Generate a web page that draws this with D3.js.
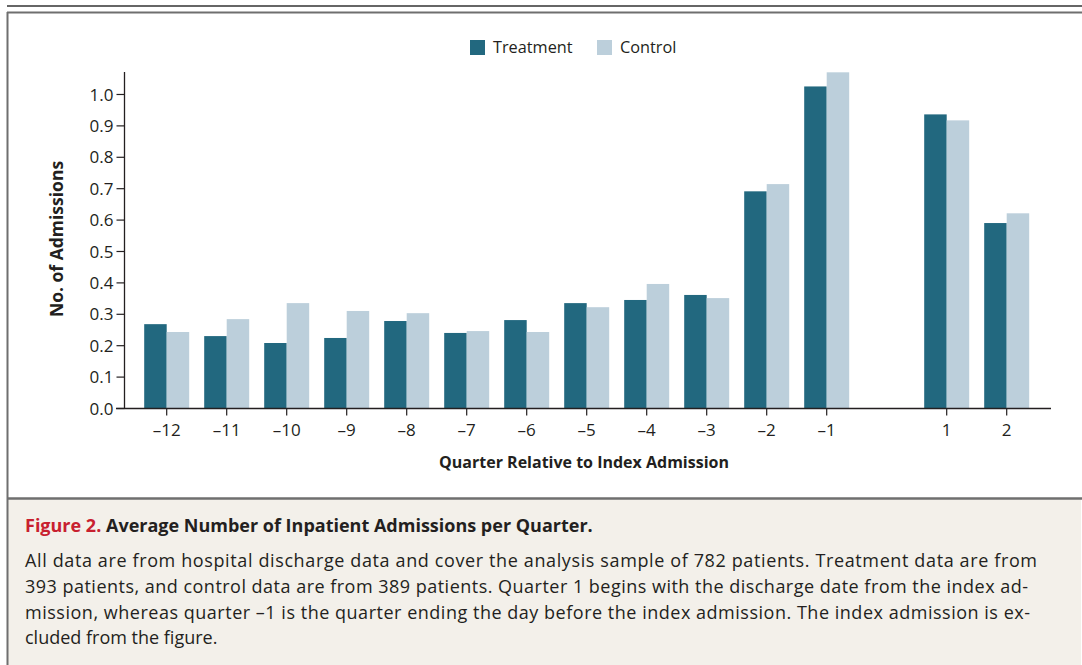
<!DOCTYPE html>
<html>
<head>
<meta charset="utf-8">
<script src="https://cdn.jsdelivr.net/npm/d3@7"></script>
<style>
  body { margin: 0; background: #fff; }
  text { font-family: "Open Sans", sans-serif; fill: #231f20; }
</style>
</head>
<body>
<div id="chart"></div>
<script>
// quarters relative to index admission ("gap" = the excluded index quarter, left blank)
var quarters = ["q-12","q-11","q-10","q-9","q-8","q-7","q-6","q-5","q-4","q-3","q-2","q-1","gap","q1","q2"]
var tickLabels = ["\u201312","\u201311","\u201310","\u20139","\u20138","\u20137","\u20136","\u20135","\u20134","\u20133","\u20132","\u20131","","1","2"]
var treatment = [0.267,0.229,0.207,0.223,0.277,0.239,0.280,0.334,0.344,0.360,0.690,1.024,null,0.935,0.589]
var control   = [0.242,0.283,0.334,0.309,0.302,0.245,0.242,0.321,0.395,0.350,0.713,1.069,null,0.916,0.620]
var yTicks = [0,0.1,0.2,0.3,0.4,0.5,0.6,0.7,0.8,0.9,1.0]
var seriesNames = ["Treatment","Control"]
var colors = ["#22687f","#bccfdb"]

var captionTitle = "Average Number of Inpatient Admissions per Quarter."
var captionLines = [
  "All data are from hospital discharge data and cover the analysis sample of 782 patients. Treatment data are from",
  "393 patients, and control data are from 389 patients. Quarter 1 begins with the discharge date from the index ad-",
  "mission, whereas quarter \u20131 is the quarter ending the day before the index admission. The index admission is ex-",
  "cluded from the figure."
]

var W = 1082, H = 665
var svg = d3.select("#chart").append("svg")
            .attr("width", W)
            .attr("height", H)

// frame + caption panel
svg.append("line").attr("x1", 7).attr("x2", W).attr("y1", 6).attr("y2", 6)
   .attr("stroke", "#333").attr("stroke-width", 1.5)
svg.append("rect").attr("x", 8).attr("y", 499).attr("width", W - 9).attr("height", H - 499)
   .attr("fill", "#f3f0ea")
svg.append("line").attr("x1", 7).attr("x2", W).attr("y1", 12.5).attr("y2", 12.5)
   .attr("stroke", "#6f6f6f").attr("stroke-width", 2)
svg.append("line").attr("x1", 7).attr("x2", W).attr("y1", 498.5).attr("y2", 498.5)
   .attr("stroke", "#6f6f6f").attr("stroke-width", 2.5)
svg.append("line").attr("x1", 7.5).attr("x2", 7.5).attr("y1", 12).attr("y2", H)
   .attr("stroke", "#6f6f6f").attr("stroke-width", 2)

var x = d3.scaleBand().domain(quarters).range([136.7, 1036.7]).paddingInner(0.25).paddingOuter(0.125)
var xs = d3.scaleBand().domain(seriesNames).range([0, x.bandwidth()])
var y = d3.scaleLinear().domain([0, 1.07]).range([408, 72])

var rows = quarters.map((q, i) => ({q: q, vals: [treatment[i], control[i]]}))
                   .filter(d => d.vals[0] != null)

var g = svg.append("g")
g.selectAll("g.grp").data(rows).enter().append("g")
  .attr("class", "grp")
  .attr("transform", d => "translate(" + x(d.q) + ",0)")
  .selectAll("rect").data(d => d.vals.map((v, j) => ({name: seriesNames[j], v: v, c: colors[j]})))
  .enter().append("rect")
    .attr("x", d => xs(d.name))
    .attr("width", xs.bandwidth())
    .attr("y", d => y(d.v))
    .attr("height", d => y(0) - y(d.v))
    .attr("fill", d => d.c)

// y axis
var yAxis = svg.append("g").attr("transform", "translate(124.5,0)")
  .call(d3.axisLeft(y).tickValues(yTicks).tickFormat(d3.format(".1f")).tickSize(8).tickPadding(3).tickSizeOuter(0))
yAxis.select(".domain").remove()
yAxis.append("line").attr("y1", 72).attr("y2", 408).attr("stroke", "#231f20").attr("stroke-width", 1.3)
yAxis.selectAll(".tick line").attr("stroke", "#231f20").attr("stroke-width", 1.2)
yAxis.selectAll(".tick text").style("font-size", "17px").attr("fill", "#231f20").attr("dy", "0.36em")

// x axis
var xAxis = svg.append("g").attr("transform", "translate(0,408.5)")
  .call(d3.axisBottom(x).tickValues(quarters.filter(q => q != "gap"))
          .tickFormat(q => tickLabels[quarters.indexOf(q)]).tickSize(7).tickPadding(8).tickSizeOuter(0))
xAxis.select(".domain").remove()
xAxis.append("line").attr("x1", 116).attr("x2", 1051).attr("stroke", "#231f20").attr("stroke-width", 1.3)
xAxis.selectAll(".tick line").attr("stroke", "#231f20").attr("stroke-width", 1.2)
xAxis.selectAll(".tick text").style("font-size", "17px").attr("fill", "#231f20")

// axis titles
svg.append("text").attr("x", 584).attr("y", 468).attr("text-anchor", "middle")
   .style("font-size", "16px").style("font-weight", "bold").text("Quarter Relative to Index Admission")
svg.append("text").attr("transform", "translate(63,239) rotate(-90)").attr("text-anchor", "middle")
   .style("font-size", "17.5px").style("font-weight", "bold").text("No. of Admissions")

// legend
var legendX = [470, 597]
var leg = svg.selectAll("g.leg").data(seriesNames).enter().append("g")
  .attr("class", "leg")
  .attr("transform", (d, i) => "translate(" + legendX[i] + ",40)")
leg.append("rect").attr("width", 15).attr("height", 15).attr("fill", (d, i) => colors[i])
leg.append("text").attr("x", 23).attr("y", 13).style("font-size", "16.3px").text(d => d)

// caption
var cap = svg.append("text").attr("x", 25).attr("y", 532).style("font-size", "18px").style("font-weight", "bold")
cap.append("tspan").style("fill", "#c8202f").text("Figure 2. ")
cap.append("tspan").text(captionTitle)

svg.selectAll("text.capline").data(captionLines).enter().append("text")
  .attr("class", "capline")
  .attr("x", 25)
  .attr("y", (d, i) => 567 + i * 25.8)
  .style("font-size", "18px")
  .attr("textLength", (d, i) => i < 3 ? [1012, 1003, 1005][i] : null)
  .attr("lengthAdjust", "spacing")
  .text(d => d)
</script>
</body>
</html>
